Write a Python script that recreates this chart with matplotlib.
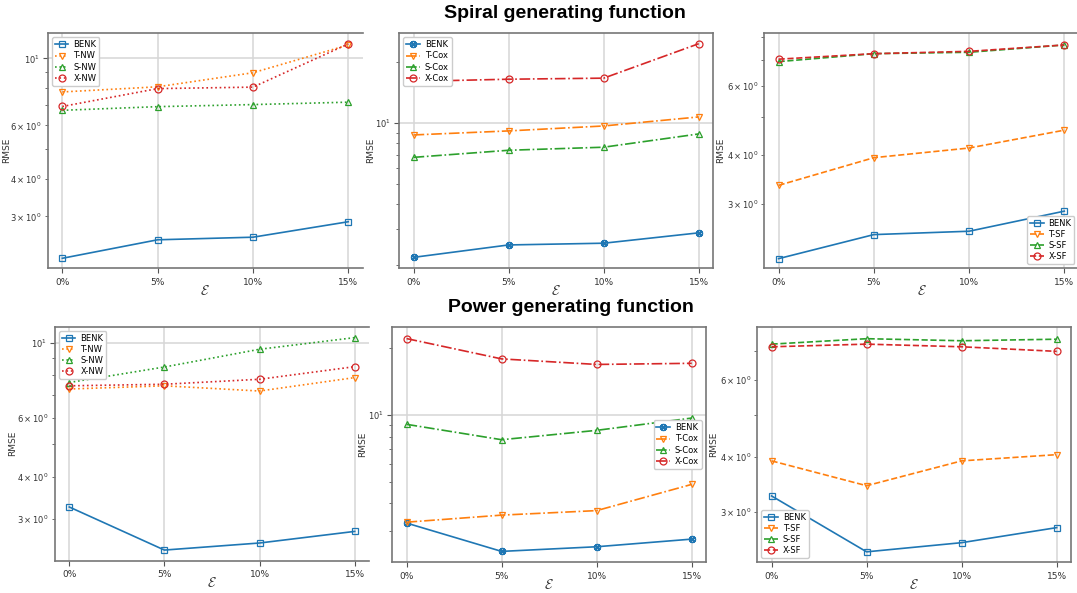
import matplotlib
matplotlib.use("Agg")
import matplotlib.pyplot as plt

plt.rcParams['font.family'] = ['DejaVu Sans']
plt.rcParams['mathtext.fontset'] = 'cm'

# ---------------- data ----------------
eps_labels = ["0%", "5%", "10%", "15%"]

# Spiral generating function
spiral_benk = [2.18, 2.51, 2.56, 2.88]
spiral_t_nw = [7.74, 8.05, 8.96, 11.07]
spiral_s_nw = [6.73, 6.92, 7.03, 7.16]
spiral_x_nw = [6.93, 7.94, 8.03, 11.16]

spiral_t_cox = [8.76, 9.17, 9.70, 10.75]
spiral_s_cox = [6.79, 7.36, 7.62, 8.86]
spiral_x_cox = [16.1, 16.5, 16.7, 24.7]

spiral_t_sf = [3.35, 3.94, 4.17, 4.63]
spiral_s_sf = [6.92, 7.25, 7.31, 7.63]
spiral_x_sf = [7.02, 7.25, 7.35, 7.63]

# Power generating function
power_benk = [3.26, 2.43, 2.55, 2.76]
power_t_nw = [7.29, 7.45, 7.19, 7.88]
power_s_nw = [7.62, 8.47, 9.56, 10.35]
power_x_nw = [7.45, 7.53, 7.79, 8.49]

power_t_cox = [3.29, 3.54, 3.71, 4.87]
power_s_cox = [9.08, 7.74, 8.53, 9.69]
power_x_cox = [22.1, 17.9, 16.9, 17.1]

power_t_sf = [3.92, 3.44, 3.92, 4.05]
power_s_sf = [7.24, 7.45, 7.37, 7.43]
power_x_sf = [7.14, 7.24, 7.14, 6.97]

W, H = 1077, 593
fig = plt.figure(figsize=(W / 100, H / 100), dpi=100)


def add_ax(l, r, t, b):
    return fig.add_axes([l / W, 1 - b / H, (r - l) / W, (b - t) / H])


def panel(ax, benk, series, names, ls, benk_marker, ylim, legend_loc,
          ylab_x, hide_right=False):
    x = list(range(len(eps_labels)))
    ax.plot(x, benk, color='C0', ls='-', marker=benk_marker, mfc='none',
            ms=4.5, mew=0.9, lw=1.2, label='BENK')
    markers = ['v', '^', 'o']
    colors = ['C1', 'C2', 'C3']
    for vals, name, m, c in zip(series, names, markers, colors):
        ax.plot(x, vals, color=c, ls=ls, marker=m, mfc='none', ms=5,
                mew=0.9, lw=1.2, label=name)
    ax.set_yscale('log')
    ax.set_ylim(*ylim)
    ax.set_xlim(-0.15, 3.15)
    ax.set_xticks(x)
    ax.set_xticklabels(eps_labels)
    ax.grid(True, which='major', color='#d6d6d6', lw=1.1)
    ax.set_axisbelow(True)
    ax.tick_params(axis='both', which='both', colors='#555555',
                   labelcolor='#333333')
    ax.tick_params(axis='x', labelsize=6.5)
    ax.tick_params(axis='y', which='both', labelsize=6, pad=2.5)
    for s in ax.spines.values():
        s.set_color('#777777')
        s.set_linewidth(1.2)
    if hide_right:
        ax.spines['right'].set_visible(False)
    ax.set_ylabel('RMSE', fontsize=6.5, color='#333333')
    ax.yaxis.set_label_coords(ylab_x, 0.5)
    ax.set_xlabel(r'$\mathcal{E}$', fontsize=10, color='#333333')
    ax.xaxis.set_label_coords(0.5, -0.095)
    ax.xaxis.label.set_va('center')
    ax.legend(loc=legend_loc, fontsize=6, handlelength=1.6,
              borderpad=0.35, labelspacing=0.25, handletextpad=0.6,
              framealpha=1.0)


benk_cox_marker = r'$\otimes$'

ax1 = add_ax(48, 362.6, 33.3, 268.3)
panel(ax1, spiral_benk, [spiral_t_nw, spiral_s_nw, spiral_x_nw],
      ['T-NW', 'S-NW', 'X-NW'], ':', 's', (2.02, 12.1), 'upper left', -0.118, True)

ax2 = add_ax(399.3, 713, 33.3, 268.3)
panel(ax2, spiral_benk, [spiral_t_cox, spiral_s_cox, spiral_x_cox],
      ['T-Cox', 'S-Cox', 'X-Cox'], '-.', benk_cox_marker, (1.925, 27.8),
      'upper left', -0.077)

ax3 = add_ax(764.3, 1078.6, 33.3, 268.3)
panel(ax3, spiral_benk, [spiral_t_sf, spiral_s_sf, spiral_x_sf],
      ['T-SF', 'S-SF', 'X-SF'], '--', 's', (2.06, 8.17), 'lower right', -0.125)

ax4 = add_ax(55, 369, 326.7, 560.7)
panel(ax4, power_benk, [power_t_nw, power_s_nw, power_x_nw],
      ['T-NW', 'S-NW', 'X-NW'], ':', 's', (2.26, 11.15), 'upper left', -0.12, True)

ax5 = add_ax(392.3, 706, 326.7, 562.3)
panel(ax5, power_benk, [power_t_cox, power_s_cox, power_x_cox],
      ['T-Cox', 'S-Cox', 'X-Cox'], '-.', benk_cox_marker, (2.17, 25.0),
      'center right', -0.081)

ax6 = add_ax(757.3, 1071, 327.3, 562.3)
panel(ax6, power_benk, [power_t_sf, power_s_sf, power_x_sf],
      ['T-SF', 'S-SF', 'X-SF'], '--', 's', (2.30, 7.91), 'lower left', -0.125)

fig.text(565 / W, 1 - 14 / H, 'Spiral generating function', ha='center', va='center',
         fontsize=14, fontweight='bold', family=['Liberation Sans', 'DejaVu Sans'])
fig.text(571 / W, 1 - 308 / H, 'Power generating function', ha='center', va='center',
         fontsize=14, fontweight='bold', family=['Liberation Sans', 'DejaVu Sans'])

fig.savefig('out.png', dpi=100, facecolor='white')
